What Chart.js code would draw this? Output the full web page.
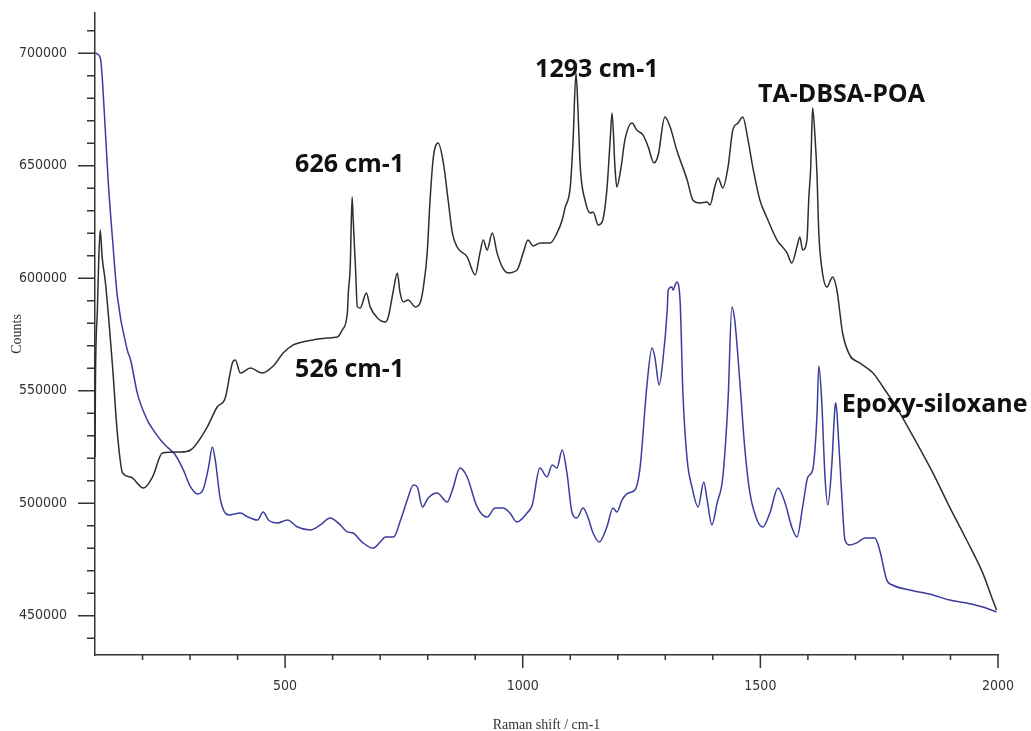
<!DOCTYPE html>
<html>
<head>
<meta charset="utf-8">
<script src="https://cdn.jsdelivr.net/npm/chart.js@4/dist/chart.umd.min.js"></script>
<style>
  html, body { margin: 0; padding: 0; background: #fff; }
  canvas { display: block; }
</style>
</head>
<body>
<canvas id="raman" width="1031" height="731"></canvas>
<script>
// ===== TA-DBSA-POA spectrum =====
const taShift = [100, 101, 105, 108, 111, 115, 122, 137, 147, 158, 175, 202, 221, 242, 280, 301, 336, 357, 374, 389,
  395, 406, 427, 452, 475, 496, 517, 536, 559, 589, 610, 620, 631, 633, 637, 641, 643, 648, 652, 658,
  671, 679, 694, 711, 717, 728, 736, 742, 749, 759, 774, 784, 791, 799, 805, 812, 822, 833, 843, 852,
  862, 883, 900, 910, 917, 925, 936, 946, 957, 969, 988, 1001, 1011, 1022, 1037, 1058, 1072, 1083, 1089, 1100,
  1106, 1112, 1116, 1121, 1131, 1142, 1148, 1159, 1167, 1177, 1184, 1188, 1194, 1198, 1207, 1215, 1230, 1240, 1253, 1264,
  1276, 1285, 1299, 1310, 1324, 1346, 1358, 1373, 1388, 1394, 1404, 1411, 1421, 1432, 1442, 1453, 1463, 1474, 1484, 1499,
  1514, 1535, 1556, 1566, 1577, 1583, 1589, 1598, 1602, 1606, 1608, 1610, 1615, 1619, 1623, 1629, 1640, 1652, 1661, 1673,
  1688, 1709, 1737, 1758, 1787, 1829, 1863, 1898, 1934, 1968, 1989, 1997];
const taCounts = [520500, 555000, 586000, 609000, 621500, 609500, 598000, 560600, 531200, 513500, 511700, 506800, 511700, 522400, 522800, 523700, 533900, 542800, 546800, 562400,
  563700, 557900, 560100, 557900, 561000, 566800, 570400, 571700, 572600, 573500, 573900, 577000, 584600, 593500, 605000, 636100, 627300, 605000, 587300, 586800,
  593500, 587300, 582400, 580600, 582800, 594800, 602400, 593500, 589500, 590400, 587300, 589000, 596100, 611300, 634800, 653900, 660100, 651300, 634800, 620100,
  613900, 609500, 601500, 611300, 617000, 612600, 620100, 611300, 605000, 602400, 603700, 611300, 617000, 614400, 615700, 615700, 620100, 625900, 631300, 640600,
  661500, 691300, 676100, 649500, 634800, 629000, 629500, 623700, 625000, 639300, 661500, 673500, 649500, 640600, 649500, 661500, 669000, 665900, 663700, 658400,
  651300, 654800, 671700, 667300, 657000, 643700, 634800, 633500, 633900, 632600, 640600, 644600, 640100, 649500, 665900, 669000, 671700, 661500, 649500, 634800,
  626800, 617000, 611300, 606800, 614000, 618400, 612600, 617000, 636100, 649500, 664600, 675700, 662800, 646800, 620100, 605000, 596100, 600600, 594800, 575700,
  565900, 562400, 557900, 551700, 542400, 526800, 513500, 498400, 483700, 469000, 457000, 452600];

// ===== Epoxy-siloxane spectrum =====
const epShift = [100, 105, 112, 116, 122, 128, 137, 147, 168, 175, 189, 210, 223, 238, 252, 269, 286, 301, 316, 328,
  339, 347, 353, 364, 381, 406, 421, 442, 454, 465, 484, 505, 526, 553, 574, 595, 616, 631, 643, 662,
  685, 700, 711, 728, 743, 757, 770, 778, 789, 801, 820, 841, 852, 868, 883, 904, 925, 942, 959, 973,
  988, 1009, 1020, 1036, 1051, 1062, 1072, 1083, 1093, 1104, 1114, 1127, 1137, 1148, 1161, 1177, 1190, 1198, 1209, 1222,
  1236, 1247, 1261, 1272, 1278, 1287, 1295, 1304, 1306, 1314, 1316, 1324, 1331, 1337, 1346, 1356, 1369, 1381, 1388, 1398,
  1409, 1421, 1432, 1440, 1446, 1457, 1467, 1478, 1493, 1505, 1520, 1537, 1552, 1566, 1577, 1589, 1600, 1610, 1619, 1623,
  1629, 1636, 1642, 1650, 1657, 1659, 1663, 1671, 1678, 1688, 1703, 1720, 1741, 1751, 1766, 1778, 1814, 1863, 1898, 1934,
  1968, 1997];
const epCounts = [700100, 699700, 697000, 686800, 664600, 642400, 617000, 592000, 568100, 563700, 549000, 537000, 532500, 528100, 525000, 521500, 514800, 507300, 504200, 506400,
  516100, 525000, 519300, 501500, 494800, 495700, 494000, 492600, 496200, 492600, 491300, 492600, 489500, 488200, 490400, 493500, 490400, 487300, 486800, 482800,
  480100, 482800, 485000, 485000, 492600, 501500, 508100, 507300, 498400, 502400, 504600, 500600, 505900, 515700, 511700, 498400, 493900, 497900, 497900, 495700,
  491700, 495700, 499300, 515700, 511700, 517000, 515700, 523700, 513500, 495700, 493500, 497900, 493900, 486800, 482800, 489500, 497900, 496200, 501500, 504600,
  505900, 516100, 551700, 569000, 565000, 552600, 563700, 585900, 594800, 596100, 594800, 598400, 590400, 549000, 519300, 507300, 498400, 509500, 501500, 490400,
  500200, 511700, 545900, 587300, 581500, 553500, 525000, 504600, 492600, 489500, 495700, 506800, 500200, 489500, 485000, 498400, 511700, 514800, 538400, 561000,
  545900, 511700, 499300, 516100, 542800, 544600, 533900, 504600, 483700, 481500, 482400, 484600, 484600, 479300, 465900, 463700, 461500, 459300, 457000, 455700,
  453900, 451700];

// ===== Axis tick labels =====
const shiftTicks = [500, 1000, 1500, 2000];
const countTicks = [450000, 500000, 550000, 600000, 650000, 700000];

// ===== Labels written on the plot =====
const noteText = ["1293 cm-1", "626 cm-1", "526 cm-1", "TA-DBSA-POA", "Epoxy-siloxane"];
const noteShift = [1026, 521, 521, 1495, 1671];
const noteCounts = [689500, 647300, 556100, 678400, 540600];

const toPoints = (xs, ys) => xs.map((x, i) => ({ x: x, y: ys[i] }));

// minor / major tick marks, drawn through the scales
const tickMarks = {
  id: "tickMarks",
  afterDraw(chart) {
    const { ctx } = chart;
    const x = chart.scales.x;
    const y = chart.scales.y;
    ctx.save();
    ctx.strokeStyle = "#333";
    ctx.lineWidth = 1.5;
    ctx.beginPath();
    for (let v = 200; v <= 2000; v += 100) {
      const px = x.getPixelForValue(v);
      const len = v % 500 === 0 ? 13 : 5;
      ctx.moveTo(px, y.bottom);
      ctx.lineTo(px, y.bottom + len);
    }
    for (let v = 440000; v <= 710000; v += 10000) {
      const py = y.getPixelForValue(v);
      const len = v % 50000 === 0 ? 17 : 8;
      ctx.moveTo(x.left, py);
      ctx.lineTo(x.left - len, py);
    }
    ctx.stroke();
    ctx.restore();
  }
};

const peakNotes = {
  id: "peakNotes",
  afterDatasetsDraw(chart) {
    const { ctx } = chart;
    const x = chart.scales.x;
    const y = chart.scales.y;
    ctx.save();
    ctx.fillStyle = "#111";
    ctx.font = "bold 25px 'Open Sans', sans-serif";
    ctx.textAlign = "left";
    ctx.textBaseline = "alphabetic";
    noteText.forEach((t, i) => {
      ctx.fillText(t, x.getPixelForValue(noteShift[i]), y.getPixelForValue(noteCounts[i]));
    });
    ctx.restore();
  }
};

const tickFont = { family: "'Liberation Sans Narrow', 'DejaVu Sans Condensed', sans-serif", size: 14 };

new Chart(document.getElementById("raman"), {
  type: "line",
  data: {
    datasets: [
      {
        label: "TA-DBSA-POA",
        data: toPoints(taShift, taCounts),
        borderColor: "#2e2e2e",
        borderWidth: 1.5,
        pointRadius: 0,
        fill: false,
        cubicInterpolationMode: "monotone"
      },
      {
        label: "Epoxy-siloxane",
        data: toPoints(epShift, epCounts),
        borderColor: "#3c3c9e",
        borderWidth: 1.5,
        pointRadius: 0,
        fill: false,
        cubicInterpolationMode: "monotone"
      }
    ]
  },
  options: {
    responsive: false,
    animation: false,
    layout: { padding: { top: 13, right: 33, left: 0, bottom: 0 } },
    plugins: {
      legend: { display: false },
      tooltip: { enabled: false }
    },
    scales: {
      x: {
        type: "linear",
        bounds: "data",
        min: 100,
        max: 2000,
        afterBuildTicks: s => { s.ticks = shiftTicks.map(v => ({ value: v })); },
        afterFit: s => { s.height = 76; },
        // label offset comes from tickLength; the visible marks are drawn by tickMarks
        grid: { display: false, drawTicks: true, tickLength: 23 },
        border: { display: true, color: "#333", width: 1.5 },
        ticks: {
          autoSkip: false,
          maxRotation: 0,
          padding: 0,
          color: "#333",
          font: tickFont,
          callback: v => String(v)
        },
        title: {
          display: true,
          text: "Raman shift / cm-1",
          color: "#333",
          font: { family: "'Liberation Serif', serif", size: 14, lineHeight: 1 },
          padding: { top: 0, bottom: -1 }
        }
      },
      y: {
        type: "linear",
        bounds: "data",
        min: 432600,
        max: 717900,
        afterBuildTicks: s => { s.ticks = countTicks.map(v => ({ value: v })); },
        afterFit: s => { s.width = 95; },
        grid: { display: false, drawTicks: true, tickLength: 28 },
        border: { display: true, color: "#333", width: 1.5 },
        ticks: {
          autoSkip: false,
          padding: 0,
          color: "#333",
          font: tickFont,
          callback: v => String(v)
        },
        title: {
          display: true,
          text: "Counts",
          color: "#333",
          font: { family: "'Liberation Serif', serif", size: 14 },
          padding: { top: 9, bottom: 0 }
        }
      }
    }
  },
  plugins: [tickMarks, peakNotes]
});
</script>
</body>
</html>
